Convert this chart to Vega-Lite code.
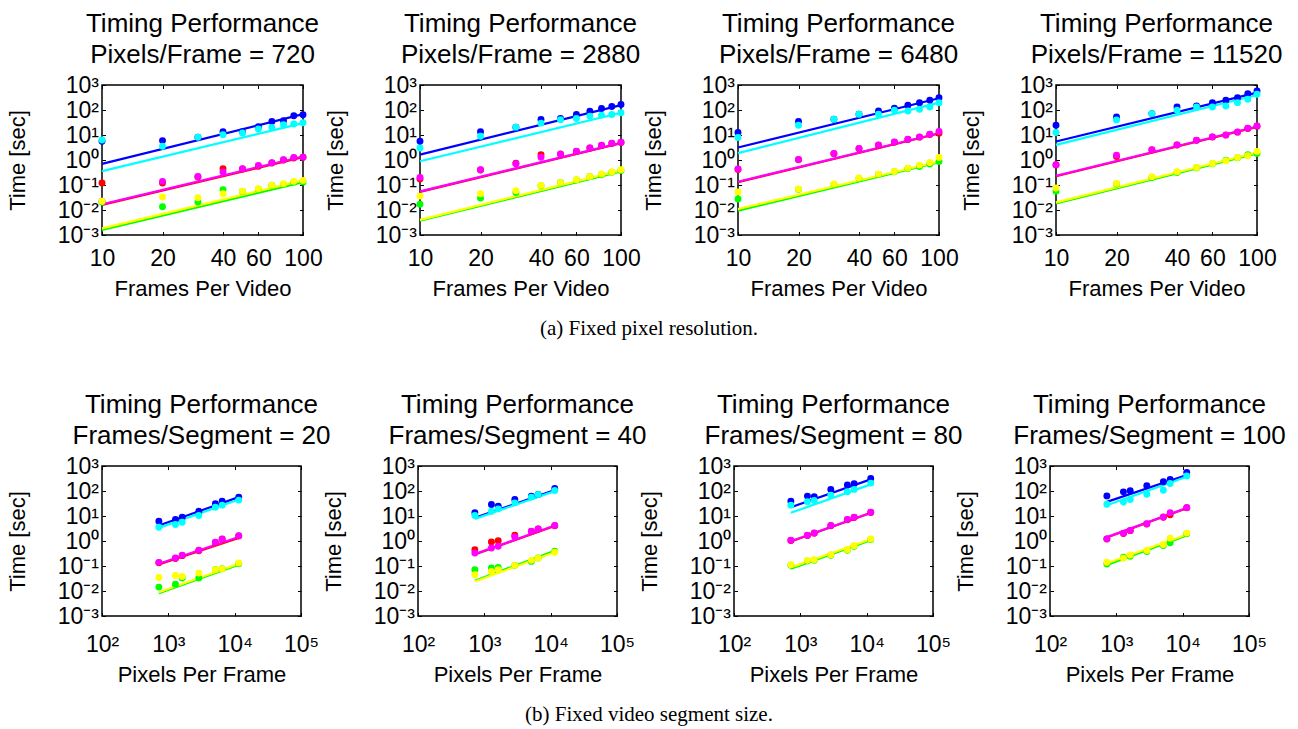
{
 "$schema": "https://vega.github.io/schema/vega-lite/v6.json",
 "background": "white",
 "padding": {"left": 5, "top": 10, "right": 5, "bottom": 5},
 "datasets": {
  "pts": [
   {"p":1,"s":"1b","x":10,"t":5.6},{"p":1,"s":"1b","x":20,"t":5.96},{"p":1,"s":"1b","x":30,"t":8.07},{"p":1,"s":"1b","x":40,"t":13.5},{"p":1,"s":"1b","x":50,"t":13.5},{"p":1,"s":"1b","x":60,"t":21.4},{"p":1,"s":"1b","x":70,"t":34.9},{"p":1,"s":"1b","x":80,"t":37.1},{"p":1,"s":"1b","x":90,"t":58.6},{"p":1,"s":"1b","x":100,"t":64.3},
   {"p":1,"s":"2c","x":10,"t":6.3},{"p":1,"s":"2c","x":20,"t":3.55},{"p":1,"s":"2c","x":30,"t":8.07},{"p":1,"s":"2c","x":40,"t":10.3},{"p":1,"s":"2c","x":50,"t":12.0},{"p":1,"s":"2c","x":60,"t":17.3},{"p":1,"s":"2c","x":70,"t":20.2},{"p":1,"s":"2c","x":80,"t":25.8},{"p":1,"s":"2c","x":90,"t":27.4},{"p":1,"s":"2c","x":100,"t":30.9},
   {"p":1,"s":"3r","x":10,"t":0.12},{"p":1,"s":"3r","x":20,"t":0.12},{"p":1,"s":"3r","x":30,"t":0.21},{"p":1,"s":"3r","x":40,"t":0.446},{"p":1,"s":"3r","x":50,"t":0.44},{"p":1,"s":"3r","x":60,"t":0.56},{"p":1,"s":"3r","x":70,"t":0.76},{"p":1,"s":"3r","x":80,"t":1.0},{"p":1,"s":"3r","x":90,"t":1.2},{"p":1,"s":"3r","x":100,"t":1.28},
   {"p":1,"s":"4m","x":10,"t":0.0224},{"p":1,"s":"4m","x":20,"t":0.14},{"p":1,"s":"4m","x":30,"t":0.22},{"p":1,"s":"4m","x":40,"t":0.329},{"p":1,"s":"4m","x":50,"t":0.446},{"p":1,"s":"4m","x":60,"t":0.6},{"p":1,"s":"4m","x":70,"t":0.77},{"p":1,"s":"4m","x":80,"t":1.02},{"p":1,"s":"4m","x":90,"t":1.25},{"p":1,"s":"4m","x":100,"t":1.3},
   {"p":1,"s":"5g","x":10,"t":0.021},{"p":1,"s":"5g","x":20,"t":0.0134},{"p":1,"s":"5g","x":30,"t":0.021},{"p":1,"s":"5g","x":40,"t":0.065},{"p":1,"s":"5g","x":50,"t":0.055},{"p":1,"s":"5g","x":60,"t":0.068},{"p":1,"s":"5g","x":70,"t":0.097},{"p":1,"s":"5g","x":80,"t":0.106},{"p":1,"s":"5g","x":90,"t":0.13},{"p":1,"s":"5g","x":100,"t":0.13},
   {"p":1,"s":"6y","x":10,"t":0.0224},{"p":1,"s":"6y","x":20,"t":0.033},{"p":1,"s":"6y","x":30,"t":0.031},{"p":1,"s":"6y","x":40,"t":0.045},{"p":1,"s":"6y","x":50,"t":0.056},{"p":1,"s":"6y","x":60,"t":0.071},{"p":1,"s":"6y","x":70,"t":0.097},{"p":1,"s":"6y","x":80,"t":0.113},{"p":1,"s":"6y","x":90,"t":0.14},{"p":1,"s":"6y","x":100,"t":0.153},

   {"p":2,"s":"1b","x":10,"t":5.6},{"p":2,"s":"1b","x":20,"t":13.4},{"p":2,"s":"1b","x":30,"t":20.6},{"p":2,"s":"1b","x":40,"t":41.8},{"p":2,"s":"1b","x":50,"t":45.8},{"p":2,"s":"1b","x":60,"t":66.4},{"p":2,"s":"1b","x":70,"t":90.3},{"p":2,"s":"1b","x":80,"t":115.6},{"p":2,"s":"1b","x":90,"t":139},{"p":2,"s":"1b","x":100,"t":167},
   {"p":2,"s":"2c","x":10,"t":3.04},{"p":2,"s":"2c","x":20,"t":8.95},{"p":2,"s":"2c","x":30,"t":20.6},{"p":2,"s":"2c","x":40,"t":29.8},{"p":2,"s":"2c","x":50,"t":40.5},{"p":2,"s":"2c","x":60,"t":45.8},{"p":2,"s":"2c","x":70,"t":56.9},{"p":2,"s":"2c","x":80,"t":62.4},{"p":2,"s":"2c","x":90,"t":66.4},{"p":2,"s":"2c","x":100,"t":77.4},
   {"p":2,"s":"3r","x":10,"t":0.173},{"p":2,"s":"3r","x":20,"t":0.4},{"p":2,"s":"3r","x":30,"t":0.74},{"p":2,"s":"3r","x":40,"t":1.64},{"p":2,"s":"3r","x":50,"t":1.72},{"p":2,"s":"3r","x":60,"t":2.2},{"p":2,"s":"3r","x":70,"t":3.0},{"p":2,"s":"3r","x":80,"t":3.85},{"p":2,"s":"3r","x":90,"t":4.6},{"p":2,"s":"3r","x":100,"t":5.05},
   {"p":2,"s":"4m","x":10,"t":0.2},{"p":2,"s":"4m","x":20,"t":0.41},{"p":2,"s":"4m","x":30,"t":0.71},{"p":2,"s":"4m","x":40,"t":1.28},{"p":2,"s":"4m","x":50,"t":1.75},{"p":2,"s":"4m","x":60,"t":2.23},{"p":2,"s":"4m","x":70,"t":3.04},{"p":2,"s":"4m","x":80,"t":3.89},{"p":2,"s":"4m","x":90,"t":4.69},{"p":2,"s":"4m","x":100,"t":5.14},
   {"p":2,"s":"5g","x":10,"t":0.0171},{"p":2,"s":"5g","x":20,"t":0.0299},{"p":2,"s":"5g","x":30,"t":0.0505},{"p":2,"s":"5g","x":40,"t":0.0935},{"p":2,"s":"5g","x":50,"t":0.125},{"p":2,"s":"5g","x":60,"t":0.16},{"p":2,"s":"5g","x":70,"t":0.218},{"p":2,"s":"5g","x":80,"t":0.255},{"p":2,"s":"5g","x":90,"t":0.325},{"p":2,"s":"5g","x":100,"t":0.38},
   {"p":2,"s":"6y","x":10,"t":0.036},{"p":2,"s":"6y","x":20,"t":0.0446},{"p":2,"s":"6y","x":30,"t":0.0589},{"p":2,"s":"6y","x":40,"t":0.0964},{"p":2,"s":"6y","x":50,"t":0.127},{"p":2,"s":"6y","x":60,"t":0.163},{"p":2,"s":"6y","x":70,"t":0.221},{"p":2,"s":"6y","x":80,"t":0.275},{"p":2,"s":"6y","x":90,"t":0.33},{"p":2,"s":"6y","x":100,"t":0.41},

   {"p":3,"s":"1b","x":10,"t":12.5},{"p":3,"s":"1b","x":20,"t":34.4},{"p":3,"s":"1b","x":30,"t":42.7},{"p":3,"s":"1b","x":40,"t":67.6},{"p":3,"s":"1b","x":50,"t":91.8},{"p":3,"s":"1b","x":60,"t":117},{"p":3,"s":"1b","x":70,"t":155},{"p":3,"s":"1b","x":80,"t":197},{"p":3,"s":"1b","x":90,"t":244},{"p":3,"s":"1b","x":100,"t":312},
   {"p":3,"s":"2c","x":10,"t":7.93},{"p":3,"s":"2c","x":20,"t":24.6},{"p":3,"s":"2c","x":30,"t":42.7},{"p":3,"s":"2c","x":40,"t":67.6},{"p":3,"s":"2c","x":50,"t":67.6},{"p":3,"s":"2c","x":60,"t":97.5},{"p":3,"s":"2c","x":70,"t":91.8},{"p":3,"s":"2c","x":80,"t":107},{"p":3,"s":"2c","x":90,"t":132},{"p":3,"s":"2c","x":100,"t":197},
   {"p":3,"s":"3r","x":10,"t":0.42},{"p":3,"s":"3r","x":20,"t":1.02},{"p":3,"s":"3r","x":30,"t":1.77},{"p":3,"s":"3r","x":40,"t":2.8},{"p":3,"s":"3r","x":50,"t":3.92},{"p":3,"s":"3r","x":60,"t":5.16},{"p":3,"s":"3r","x":70,"t":6.6},{"p":3,"s":"3r","x":80,"t":8.2},{"p":3,"s":"3r","x":90,"t":10.5},{"p":3,"s":"3r","x":100,"t":11.8},
   {"p":3,"s":"4m","x":10,"t":0.433},{"p":3,"s":"4m","x":20,"t":1.05},{"p":3,"s":"4m","x":30,"t":1.82},{"p":3,"s":"4m","x":40,"t":2.89},{"p":3,"s":"4m","x":50,"t":4.04},{"p":3,"s":"4m","x":60,"t":5.32},{"p":3,"s":"4m","x":70,"t":6.79},{"p":3,"s":"4m","x":80,"t":8.43},{"p":3,"s":"4m","x":90,"t":10.8},{"p":3,"s":"4m","x":100,"t":13.7},
   {"p":3,"s":"5g","x":10,"t":0.0275},{"p":3,"s":"5g","x":20,"t":0.067},{"p":3,"s":"5g","x":30,"t":0.106},{"p":3,"s":"5g","x":40,"t":0.184},{"p":3,"s":"5g","x":50,"t":0.265},{"p":3,"s":"5g","x":60,"t":0.34},{"p":3,"s":"5g","x":70,"t":0.46},{"p":3,"s":"5g","x":80,"t":0.552},{"p":3,"s":"5g","x":90,"t":0.684},{"p":3,"s":"5g","x":100,"t":0.873},
   {"p":3,"s":"6y","x":10,"t":0.0522},{"p":3,"s":"6y","x":20,"t":0.0689},{"p":3,"s":"6y","x":30,"t":0.109},{"p":3,"s":"6y","x":40,"t":0.189},{"p":3,"s":"6y","x":50,"t":0.273},{"p":3,"s":"6y","x":60,"t":0.349},{"p":3,"s":"6y","x":70,"t":0.474},{"p":3,"s":"6y","x":80,"t":0.624},{"p":3,"s":"6y","x":90,"t":0.797},{"p":3,"s":"6y","x":100,"t":1.26},

   {"p":4,"s":"1b","x":10,"t":24.6},{"p":4,"s":"1b","x":20,"t":52.9},{"p":4,"s":"1b","x":30,"t":71.8},{"p":4,"s":"1b","x":40,"t":132},{"p":4,"s":"1b","x":50,"t":145},{"p":4,"s":"1b","x":60,"t":197},{"p":4,"s":"1b","x":70,"t":244},{"p":4,"s":"1b","x":80,"t":312},{"p":4,"s":"1b","x":90,"t":451},{"p":4,"s":"1b","x":100,"t":576},
   {"p":4,"s":"2c","x":10,"t":12.5},{"p":4,"s":"2c","x":20,"t":40.2},{"p":4,"s":"2c","x":30,"t":71.8},{"p":4,"s":"2c","x":40,"t":97.5},{"p":4,"s":"2c","x":50,"t":132},{"p":4,"s":"2c","x":60,"t":132},{"p":4,"s":"2c","x":70,"t":145},{"p":4,"s":"2c","x":80,"t":197},{"p":4,"s":"2c","x":90,"t":268},{"p":4,"s":"2c","x":100,"t":424},
   {"p":4,"s":"3r","x":10,"t":0.63},{"p":4,"s":"3r","x":20,"t":1.38},{"p":4,"s":"3r","x":30,"t":2.5},{"p":4,"s":"3r","x":40,"t":3.96},{"p":4,"s":"3r","x":50,"t":6.1},{"p":4,"s":"3r","x":60,"t":8.26},{"p":4,"s":"3r","x":70,"t":9.9},{"p":4,"s":"3r","x":80,"t":13.0},{"p":4,"s":"3r","x":90,"t":18.3},{"p":4,"s":"3r","x":100,"t":22.6},
   {"p":4,"s":"4m","x":10,"t":0.644},{"p":4,"s":"4m","x":20,"t":1.56},{"p":4,"s":"4m","x":30,"t":2.55},{"p":4,"s":"4m","x":40,"t":4.04},{"p":4,"s":"4m","x":50,"t":6.21},{"p":4,"s":"4m","x":60,"t":8.43},{"p":4,"s":"4m","x":70,"t":10.1},{"p":4,"s":"4m","x":80,"t":13.3},{"p":4,"s":"4m","x":90,"t":18.7},{"p":4,"s":"4m","x":100,"t":23.1},
   {"p":4,"s":"5g","x":10,"t":0.0556},{"p":4,"s":"5g","x":20,"t":0.109},{"p":4,"s":"5g","x":30,"t":0.201},{"p":4,"s":"5g","x":40,"t":0.318},{"p":4,"s":"5g","x":50,"t":0.49},{"p":4,"s":"5g","x":60,"t":0.71},{"p":4,"s":"5g","x":70,"t":0.99},{"p":4,"s":"5g","x":80,"t":1.24},{"p":4,"s":"5g","x":90,"t":1.61},{"p":4,"s":"5g","x":100,"t":1.82},
   {"p":4,"s":"6y","x":10,"t":0.0755},{"p":4,"s":"6y","x":20,"t":0.116},{"p":4,"s":"6y","x":30,"t":0.214},{"p":4,"s":"6y","x":40,"t":0.338},{"p":4,"s":"6y","x":50,"t":0.504},{"p":4,"s":"6y","x":60,"t":0.727},{"p":4,"s":"6y","x":70,"t":0.929},{"p":4,"s":"6y","x":80,"t":1.26},{"p":4,"s":"6y","x":90,"t":1.47},{"p":4,"s":"6y","x":100,"t":2.19},

   {"p":5,"s":"1b","x":720,"t":6.18},{"p":5,"s":"1b","x":1280,"t":7.21},{"p":5,"s":"1b","x":1620,"t":8.95},{"p":5,"s":"1b","x":2880,"t":15.6},{"p":5,"s":"1b","x":5120,"t":30.7},{"p":5,"s":"1b","x":6480,"t":39.3},{"p":5,"s":"1b","x":11520,"t":56.9},
   {"p":5,"s":"2c","x":720,"t":3.55},{"p":5,"s":"2c","x":1280,"t":4.54},{"p":5,"s":"2c","x":1620,"t":5.64},{"p":5,"s":"2c","x":2880,"t":10.4},{"p":5,"s":"2c","x":5120,"t":22.5},{"p":5,"s":"2c","x":6480,"t":27.2},{"p":5,"s":"2c","x":11520,"t":43.2},
   {"p":5,"s":"3r","x":720,"t":0.135},{"p":5,"s":"3r","x":1280,"t":0.2},{"p":5,"s":"3r","x":1620,"t":0.26},{"p":5,"s":"3r","x":2880,"t":0.41},{"p":5,"s":"3r","x":5120,"t":0.86},{"p":5,"s":"3r","x":6480,"t":1.17},{"p":5,"s":"3r","x":11520,"t":1.58},
   {"p":5,"s":"4m","x":720,"t":0.14},{"p":5,"s":"4m","x":1280,"t":0.208},{"p":5,"s":"4m","x":1620,"t":0.267},{"p":5,"s":"4m","x":2880,"t":0.424},{"p":5,"s":"4m","x":5120,"t":0.887},{"p":5,"s":"4m","x":6480,"t":1.21},{"p":5,"s":"4m","x":11520,"t":1.64},
   {"p":5,"s":"5g","x":720,"t":0.0143},{"p":5,"s":"5g","x":1280,"t":0.0188},{"p":5,"s":"5g","x":1620,"t":0.0328},{"p":5,"s":"5g","x":2880,"t":0.0328},{"p":5,"s":"5g","x":5120,"t":0.0708},{"p":5,"s":"5g","x":6480,"t":0.0776},{"p":5,"s":"5g","x":11520,"t":0.123},
   {"p":5,"s":"6y","x":720,"t":0.0348},{"p":5,"s":"6y","x":1280,"t":0.042},{"p":5,"s":"6y","x":1620,"t":0.0382},{"p":5,"s":"6y","x":2880,"t":0.052},{"p":5,"s":"6y","x":5120,"t":0.0708},{"p":5,"s":"6y","x":6480,"t":0.0776},{"p":5,"s":"6y","x":11520,"t":0.131},

   {"p":6,"s":"1b","x":720,"t":13.4},{"p":6,"s":"1b","x":1280,"t":28.9},{"p":6,"s":"1b","x":1620,"t":24.8},{"p":6,"s":"1b","x":2880,"t":45.8},{"p":6,"s":"1b","x":5120,"t":62.4},{"p":6,"s":"1b","x":6480,"t":72.8},{"p":6,"s":"1b","x":11520,"t":127},
   {"p":6,"s":"2c","x":720,"t":10.4},{"p":6,"s":"2c","x":1280,"t":15.6},{"p":6,"s":"2c","x":1620,"t":19.3},{"p":6,"s":"2c","x":2880,"t":33.6},{"p":6,"s":"2c","x":5120,"t":56.9},{"p":6,"s":"2c","x":6480,"t":72.8},{"p":6,"s":"2c","x":11520,"t":105},
   {"p":6,"s":"3r","x":720,"t":0.45},{"p":6,"s":"3r","x":1280,"t":0.914},{"p":6,"s":"3r","x":1620,"t":1.03},{"p":6,"s":"3r","x":2880,"t":1.69},{"p":6,"s":"3r","x":5120,"t":2.4},{"p":6,"s":"3r","x":6480,"t":3.0},{"p":6,"s":"3r","x":11520,"t":4.05},
   {"p":6,"s":"4m","x":720,"t":0.33},{"p":6,"s":"4m","x":1280,"t":0.525},{"p":6,"s":"4m","x":1620,"t":0.612},{"p":6,"s":"4m","x":2880,"t":1.45},{"p":6,"s":"4m","x":5120,"t":2.45},{"p":6,"s":"4m","x":6480,"t":3.04},{"p":6,"s":"4m","x":11520,"t":4.14},
   {"p":6,"s":"5g","x":720,"t":0.0708},{"p":6,"s":"5g","x":1280,"t":0.0826},{"p":6,"s":"5g","x":1620,"t":0.0879},{"p":6,"s":"5g","x":2880,"t":0.106},{"p":6,"s":"5g","x":5120,"t":0.153},{"p":6,"s":"5g","x":6480,"t":0.208},{"p":6,"s":"5g","x":11520,"t":0.386},
   {"p":6,"s":"6y","x":720,"t":0.0446},{"p":6,"s":"6y","x":1280,"t":0.0607},{"p":6,"s":"6y","x":1620,"t":0.0708},{"p":6,"s":"6y","x":2880,"t":0.106},{"p":6,"s":"6y","x":5120,"t":0.168},{"p":6,"s":"6y","x":6480,"t":0.208},{"p":6,"s":"6y","x":11520,"t":0.352},

   {"p":7,"s":"1b","x":720,"t":39.3},{"p":7,"s":"1b","x":1280,"t":62.4},{"p":7,"s":"1b","x":1620,"t":58.6},{"p":7,"s":"1b","x":2880,"t":116},{"p":7,"s":"1b","x":5120,"t":173},{"p":7,"s":"1b","x":6480,"t":195},{"p":7,"s":"1b","x":11520,"t":319},
   {"p":7,"s":"2c","x":720,"t":27.2},{"p":7,"s":"2c","x":1280,"t":37.0},{"p":7,"s":"2c","x":1620,"t":41.8},{"p":7,"s":"2c","x":2880,"t":68.4},{"p":7,"s":"2c","x":5120,"t":93.1},{"p":7,"s":"2c","x":6480,"t":116},{"p":7,"s":"2c","x":11520,"t":207},
   {"p":7,"s":"3r","x":720,"t":1.05},{"p":7,"s":"3r","x":1280,"t":1.65},{"p":7,"s":"3r","x":1620,"t":2.06},{"p":7,"s":"3r","x":2880,"t":4.05},{"p":7,"s":"3r","x":5120,"t":7.05},{"p":7,"s":"3r","x":6480,"t":8.75},{"p":7,"s":"3r","x":11520,"t":13.9},
   {"p":7,"s":"4m","x":720,"t":1.07},{"p":7,"s":"4m","x":1280,"t":1.69},{"p":7,"s":"4m","x":1620,"t":2.1},{"p":7,"s":"4m","x":2880,"t":4.14},{"p":7,"s":"4m","x":5120,"t":7.21},{"p":7,"s":"4m","x":6480,"t":8.95},{"p":7,"s":"4m","x":11520,"t":14.2},
   {"p":7,"s":"5g","x":720,"t":0.108},{"p":7,"s":"5g","x":1280,"t":0.16},{"p":7,"s":"5g","x":1620,"t":0.17},{"p":7,"s":"5g","x":2880,"t":0.27},{"p":7,"s":"5g","x":5120,"t":0.43},{"p":7,"s":"5g","x":6480,"t":0.62},{"p":7,"s":"5g","x":11520,"t":1.15},
   {"p":7,"s":"6y","x":720,"t":0.112},{"p":7,"s":"6y","x":1280,"t":0.168},{"p":7,"s":"6y","x":1620,"t":0.179},{"p":7,"s":"6y","x":2880,"t":0.283},{"p":7,"s":"6y","x":5120,"t":0.45},{"p":7,"s":"6y","x":6480,"t":0.652},{"p":7,"s":"6y","x":11520,"t":1.21},

   {"p":8,"s":"1b","x":720,"t":63.8},{"p":8,"s":"1b","x":1280,"t":92.5},{"p":8,"s":"1b","x":1620,"t":102},{"p":8,"s":"1b","x":2880,"t":161},{"p":8,"s":"1b","x":5120,"t":234},{"p":8,"s":"1b","x":6480,"t":290},{"p":8,"s":"1b","x":11520,"t":556},
   {"p":8,"s":"2c","x":720,"t":29.5},{"p":8,"s":"2c","x":1280,"t":36.6},{"p":8,"s":"2c","x":1620,"t":45.5},{"p":8,"s":"2c","x":2880,"t":74.5},{"p":8,"s":"2c","x":5120,"t":108},{"p":8,"s":"2c","x":6480,"t":200},{"p":8,"s":"2c","x":11520,"t":395},
   {"p":8,"s":"3r","x":720,"t":1.2},{"p":8,"s":"3r","x":1280,"t":2.0},{"p":8,"s":"3r","x":1620,"t":2.6},{"p":8,"s":"3r","x":2880,"t":4.8},{"p":8,"s":"3r","x":5120,"t":8.9},{"p":8,"s":"3r","x":6480,"t":11.3},{"p":8,"s":"3r","x":11520,"t":21.2},
   {"p":8,"s":"4m","x":720,"t":1.22},{"p":8,"s":"4m","x":1280,"t":2.07},{"p":8,"s":"4m","x":1620,"t":2.65},{"p":8,"s":"4m","x":2880,"t":4.91},{"p":8,"s":"4m","x":5120,"t":9.12},{"p":8,"s":"4m","x":6480,"t":13.6},{"p":8,"s":"4m","x":11520,"t":21.7},
   {"p":8,"s":"5g","x":720,"t":0.12},{"p":8,"s":"5g","x":1280,"t":0.223},{"p":8,"s":"5g","x":1620,"t":0.245},{"p":8,"s":"5g","x":2880,"t":0.377},{"p":8,"s":"5g","x":5120,"t":0.659},{"p":8,"s":"5g","x":6480,"t":0.843},{"p":8,"s":"5g","x":11520,"t":1.95},
   {"p":8,"s":"6y","x":720,"t":0.141},{"p":8,"s":"6y","x":1280,"t":0.204},{"p":8,"s":"6y","x":1620,"t":0.277},{"p":8,"s":"6y","x":2880,"t":0.414},{"p":8,"s":"6y","x":5120,"t":0.723},{"p":8,"s":"6y","x":6480,"t":1.3},{"p":8,"s":"6y","x":11520,"t":2.07}
  ],
  "fits": [
   {"p":1,"s":"1b","x":10,"t":0.7},{"p":1,"s":"1b","x":100,"t":68.2},
   {"p":1,"s":"2c","x":10,"t":0.36},{"p":1,"s":"2c","x":100,"t":30.0},
   {"p":1,"s":"3r","x":10,"t":0.016},{"p":1,"s":"3r","x":100,"t":1.3},
   {"p":1,"s":"4m","x":10,"t":0.017},{"p":1,"s":"4m","x":100,"t":1.38},
   {"p":1,"s":"5g","x":10,"t":0.00158},{"p":1,"s":"5g","x":100,"t":0.13},
   {"p":1,"s":"6y","x":10,"t":0.00184},{"p":1,"s":"6y","x":100,"t":0.153},
   {"p":2,"s":"1b","x":10,"t":1.64},{"p":2,"s":"1b","x":100,"t":157},
   {"p":2,"s":"2c","x":10,"t":0.89},{"p":2,"s":"2c","x":100,"t":77.4},
   {"p":2,"s":"3r","x":10,"t":0.053},{"p":2,"s":"3r","x":100,"t":4.7},
   {"p":2,"s":"4m","x":10,"t":0.0553},{"p":2,"s":"4m","x":100,"t":4.83},
   {"p":2,"s":"5g","x":10,"t":0.00378},{"p":2,"s":"5g","x":100,"t":0.352},
   {"p":2,"s":"6y","x":10,"t":0.00403},{"p":2,"s":"6y","x":100,"t":0.386},
   {"p":3,"s":"1b","x":10,"t":3.16},{"p":3,"s":"1b","x":100,"t":294},
   {"p":3,"s":"2c","x":10,"t":1.88},{"p":3,"s":"2c","x":100,"t":197},
   {"p":3,"s":"3r","x":10,"t":0.13},{"p":3,"s":"3r","x":100,"t":11.5},
   {"p":3,"s":"4m","x":10,"t":0.135},{"p":3,"s":"4m","x":100,"t":11.8},
   {"p":3,"s":"5g","x":10,"t":0.0094},{"p":3,"s":"5g","x":100,"t":0.81},
   {"p":3,"s":"6y","x":10,"t":0.011},{"p":3,"s":"6y","x":100,"t":0.873},
   {"p":4,"s":"1b","x":10,"t":5.49},{"p":4,"s":"1b","x":100,"t":494},
   {"p":4,"s":"2c","x":10,"t":4.04},{"p":4,"s":"2c","x":100,"t":399},
   {"p":4,"s":"3r","x":10,"t":0.225},{"p":4,"s":"3r","x":100,"t":21},
   {"p":4,"s":"4m","x":10,"t":0.234},{"p":4,"s":"4m","x":100,"t":21.8},
   {"p":4,"s":"5g","x":10,"t":0.0185},{"p":4,"s":"5g","x":100,"t":1.82},
   {"p":4,"s":"6y","x":10,"t":0.0202},{"p":4,"s":"6y","x":100,"t":2.0},
   {"p":5,"s":"1b","x":720,"t":4.14},{"p":5,"s":"1b","x":11520,"t":56.9},
   {"p":5,"s":"2c","x":720,"t":3.34},{"p":5,"s":"2c","x":11520,"t":45.8},
   {"p":5,"s":"3r","x":720,"t":0.116},{"p":5,"s":"3r","x":11520,"t":1.32},
   {"p":5,"s":"4m","x":720,"t":0.123},{"p":5,"s":"4m","x":11520,"t":1.45},
   {"p":5,"s":"5g","x":720,"t":0.0082},{"p":5,"s":"5g","x":11520,"t":0.112},
   {"p":5,"s":"6y","x":720,"t":0.00897},{"p":5,"s":"6y","x":11520,"t":0.123},
   {"p":6,"s":"1b","x":720,"t":8.41},{"p":6,"s":"1b","x":11520,"t":109},
   {"p":6,"s":"2c","x":720,"t":7.67},{"p":6,"s":"2c","x":11520,"t":99},
   {"p":6,"s":"3r","x":720,"t":0.29},{"p":6,"s":"3r","x":11520,"t":4.0},
   {"p":6,"s":"4m","x":720,"t":0.301},{"p":6,"s":"4m","x":11520,"t":4.14},
   {"p":6,"s":"5g","x":720,"t":0.0256},{"p":6,"s":"5g","x":11520,"t":0.41},
   {"p":6,"s":"6y","x":720,"t":0.0241},{"p":6,"s":"6y","x":11520,"t":0.352},
   {"p":7,"s":"1b","x":720,"t":22.5},{"p":7,"s":"1b","x":11520,"t":292},
   {"p":7,"s":"2c","x":720,"t":13.4},{"p":7,"s":"2c","x":11520,"t":184},
   {"p":7,"s":"3r","x":720,"t":0.95},{"p":7,"s":"3r","x":11520,"t":13.1},
   {"p":7,"s":"4m","x":720,"t":0.97},{"p":7,"s":"4m","x":11520,"t":13.4},
   {"p":7,"s":"5g","x":720,"t":0.0776},{"p":7,"s":"5g","x":11520,"t":1.07},
   {"p":7,"s":"6y","x":720,"t":0.0879},{"p":7,"s":"6y","x":11520,"t":1.17},
   {"p":8,"s":"1b","x":720,"t":36.6},{"p":8,"s":"1b","x":11520,"t":435},
   {"p":8,"s":"2c","x":720,"t":26.9},{"p":8,"s":"2c","x":11520,"t":372},
   {"p":8,"s":"3r","x":720,"t":1.38},{"p":8,"s":"3r","x":11520,"t":20.5},
   {"p":8,"s":"4m","x":720,"t":1.43},{"p":8,"s":"4m","x":11520,"t":21.0},
   {"p":8,"s":"5g","x":720,"t":0.11},{"p":8,"s":"5g","x":11520,"t":1.66},
   {"p":8,"s":"6y","x":720,"t":0.128},{"p":8,"s":"6y","x":11520,"t":1.83}
  ]
 },
 "config": {
  "font": "Liberation Sans",
  "view": {"stroke": "black", "strokeWidth": 1.5},
  "axis": {"grid": false, "domain": false, "tickColor": "black", "tickSize": -3.5, "tickWidth": 1, "labelColor": "black", "labelFontSize": 23, "labelFont": "Liberation Sans", "titleFont": "Liberation Sans", "titleFontSize": 22, "titleFontWeight": "normal", "titleColor": "black", "labelOverlap": false, "labelFlush": false},
  "title": {"font": "Liberation Sans", "fontSize": 26, "fontWeight": "normal", "color": "black", "lineHeight": 31, "offset": 6, "frame": "group", "anchor": "middle"}
 },
 "spacing": 381,
 "bounds": "flush",
 "vconcat": [
  {
   "spacing": 117,
   "bounds": "flush",
   "title": {"text": "(a) Fixed pixel resolution.", "orient": "bottom", "anchor": "middle", "frame": "group", "font": "Liberation Serif", "fontSize": 21, "fontWeight": "normal", "offset": 18, "dx": 547},
   "hconcat": [
    {"width": 201, "height": 150, "title": {"text": ["Timing Performance", "Pixels/Frame = 720"]},
     "layer": [
      {"data": {"name": "fits"}, "transform": [{"filter": "datum.p == 1"}], "mark": {"type": "line", "strokeWidth": 2.2},
       "encoding": {"x": {"field": "x", "type": "quantitative", "scale": {"type": "log", "domain": [10, 100], "nice": false}, "axis": {"values": [10, 20, 40, 60, 100], "title": "Frames Per Video", "labelPadding": 16, "titlePadding": 8}},
        "y": {"field": "t", "type": "quantitative", "scale": {"type": "log", "domain": [0.001, 1000], "nice": false}, "axis": {"values": [0.001, 0.01, 0.1, 1, 10, 100, 1000], "labelExpr": "'10' + ['⁻³','⁻²','⁻¹','⁰','¹','²','³','⁴','⁵'][round(log(datum.value)/LN10)+3]", "title": "Time [sec]", "labelPadding": 7, "titlePadding": 28}},
        "color": {"field": "s", "type": "nominal", "legend": null, "scale": {"domain": ["1b","2c","3r","4m","5g","6y"], "range": ["#0000ff","#00ffff","#ff0000","#ff00ff","#00ff00","#ffff00"]}}}},
      {"data": {"name": "pts"}, "transform": [{"filter": "datum.p == 1"}], "mark": {"type": "circle", "size": 48, "opacity": 1},
       "encoding": {"x": {"field": "x", "type": "quantitative", "scale": {"type": "log", "domain": [10, 100], "nice": false}, "axis": {"orient": "top", "values": [10, 20, 40, 60, 100], "labels": false, "title": null}},
        "y": {"field": "t", "type": "quantitative", "scale": {"type": "log", "domain": [0.001, 1000], "nice": false}, "axis": {"orient": "right", "values": [0.001, 0.01, 0.1, 1, 10, 100, 1000], "labels": false, "title": null}},
        "color": {"field": "s", "type": "nominal", "legend": null}}}
     ],
     "resolve": {"scale": {"x": "independent", "y": "independent"}}},
    {"width": 201, "height": 150, "title": {"text": ["Timing Performance", "Pixels/Frame = 2880"]},
     "layer": [
      {"data": {"name": "fits"}, "transform": [{"filter": "datum.p == 2"}], "mark": {"type": "line", "strokeWidth": 2.2},
       "encoding": {"x": {"field": "x", "type": "quantitative", "scale": {"type": "log", "domain": [10, 100], "nice": false}, "axis": {"values": [10, 20, 40, 60, 100], "title": "Frames Per Video", "labelPadding": 16, "titlePadding": 8}},
        "y": {"field": "t", "type": "quantitative", "scale": {"type": "log", "domain": [0.001, 1000], "nice": false}, "axis": {"values": [0.001, 0.01, 0.1, 1, 10, 100, 1000], "labelExpr": "'10' + ['⁻³','⁻²','⁻¹','⁰','¹','²','³','⁴','⁵'][round(log(datum.value)/LN10)+3]", "title": "Time [sec]", "labelPadding": 7, "titlePadding": 28}},
        "color": {"field": "s", "type": "nominal", "legend": null, "scale": {"domain": ["1b","2c","3r","4m","5g","6y"], "range": ["#0000ff","#00ffff","#ff0000","#ff00ff","#00ff00","#ffff00"]}}}},
      {"data": {"name": "pts"}, "transform": [{"filter": "datum.p == 2"}], "mark": {"type": "circle", "size": 48, "opacity": 1},
       "encoding": {"x": {"field": "x", "type": "quantitative", "scale": {"type": "log", "domain": [10, 100], "nice": false}, "axis": {"orient": "top", "values": [10, 20, 40, 60, 100], "labels": false, "title": null}},
        "y": {"field": "t", "type": "quantitative", "scale": {"type": "log", "domain": [0.001, 1000], "nice": false}, "axis": {"orient": "right", "values": [0.001, 0.01, 0.1, 1, 10, 100, 1000], "labels": false, "title": null}},
        "color": {"field": "s", "type": "nominal", "legend": null}}}
     ],
     "resolve": {"scale": {"x": "independent", "y": "independent"}}},
    {"width": 201, "height": 150, "title": {"text": ["Timing Performance", "Pixels/Frame = 6480"]},
     "layer": [
      {"data": {"name": "fits"}, "transform": [{"filter": "datum.p == 3"}], "mark": {"type": "line", "strokeWidth": 2.2},
       "encoding": {"x": {"field": "x", "type": "quantitative", "scale": {"type": "log", "domain": [10, 100], "nice": false}, "axis": {"values": [10, 20, 40, 60, 100], "title": "Frames Per Video", "labelPadding": 16, "titlePadding": 8}},
        "y": {"field": "t", "type": "quantitative", "scale": {"type": "log", "domain": [0.001, 1000], "nice": false}, "axis": {"values": [0.001, 0.01, 0.1, 1, 10, 100, 1000], "labelExpr": "'10' + ['⁻³','⁻²','⁻¹','⁰','¹','²','³','⁴','⁵'][round(log(datum.value)/LN10)+3]", "title": "Time [sec]", "labelPadding": 7, "titlePadding": 28}},
        "color": {"field": "s", "type": "nominal", "legend": null, "scale": {"domain": ["1b","2c","3r","4m","5g","6y"], "range": ["#0000ff","#00ffff","#ff0000","#ff00ff","#00ff00","#ffff00"]}}}},
      {"data": {"name": "pts"}, "transform": [{"filter": "datum.p == 3"}], "mark": {"type": "circle", "size": 48, "opacity": 1},
       "encoding": {"x": {"field": "x", "type": "quantitative", "scale": {"type": "log", "domain": [10, 100], "nice": false}, "axis": {"orient": "top", "values": [10, 20, 40, 60, 100], "labels": false, "title": null}},
        "y": {"field": "t", "type": "quantitative", "scale": {"type": "log", "domain": [0.001, 1000], "nice": false}, "axis": {"orient": "right", "values": [0.001, 0.01, 0.1, 1, 10, 100, 1000], "labels": false, "title": null}},
        "color": {"field": "s", "type": "nominal", "legend": null}}}
     ],
     "resolve": {"scale": {"x": "independent", "y": "independent"}}},
    {"width": 201, "height": 150, "title": {"text": ["Timing Performance", "Pixels/Frame = 11520"]},
     "layer": [
      {"data": {"name": "fits"}, "transform": [{"filter": "datum.p == 4"}], "mark": {"type": "line", "strokeWidth": 2.2},
       "encoding": {"x": {"field": "x", "type": "quantitative", "scale": {"type": "log", "domain": [10, 100], "nice": false}, "axis": {"values": [10, 20, 40, 60, 100], "title": "Frames Per Video", "labelPadding": 16, "titlePadding": 8}},
        "y": {"field": "t", "type": "quantitative", "scale": {"type": "log", "domain": [0.001, 1000], "nice": false}, "axis": {"values": [0.001, 0.01, 0.1, 1, 10, 100, 1000], "labelExpr": "'10' + ['⁻³','⁻²','⁻¹','⁰','¹','²','³','⁴','⁵'][round(log(datum.value)/LN10)+3]", "title": "Time [sec]", "labelPadding": 7, "titlePadding": 28}},
        "color": {"field": "s", "type": "nominal", "legend": null, "scale": {"domain": ["1b","2c","3r","4m","5g","6y"], "range": ["#0000ff","#00ffff","#ff0000","#ff00ff","#00ff00","#ffff00"]}}}},
      {"data": {"name": "pts"}, "transform": [{"filter": "datum.p == 4"}], "mark": {"type": "circle", "size": 48, "opacity": 1},
       "encoding": {"x": {"field": "x", "type": "quantitative", "scale": {"type": "log", "domain": [10, 100], "nice": false}, "axis": {"orient": "top", "values": [10, 20, 40, 60, 100], "labels": false, "title": null}},
        "y": {"field": "t", "type": "quantitative", "scale": {"type": "log", "domain": [0.001, 1000], "nice": false}, "axis": {"orient": "right", "values": [0.001, 0.01, 0.1, 1, 10, 100, 1000], "labels": false, "title": null}},
        "color": {"field": "s", "type": "nominal", "legend": null}}}
     ],
     "resolve": {"scale": {"x": "independent", "y": "independent"}}}
   ]
  },
  {
   "spacing": 117,
   "bounds": "flush",
   "title": {"text": "(b) Fixed video segment size.", "orient": "bottom", "anchor": "middle", "frame": "group", "font": "Liberation Serif", "fontSize": 21, "fontWeight": "normal", "offset": 18, "dx": 547},
   "hconcat": [
    {"width": 199, "height": 150, "title": {"text": ["Timing Performance", "Frames/Segment = 20"]},
     "layer": [
      {"data": {"name": "fits"}, "transform": [{"filter": "datum.p == 5"}], "mark": {"type": "line", "strokeWidth": 2.2},
       "encoding": {"x": {"field": "x", "type": "quantitative", "scale": {"type": "log", "domain": [100, 100000], "nice": false}, "axis": {"values": [100, 1000, 10000, 100000], "labelExpr": "'10' + ['⁻³','⁻²','⁻¹','⁰','¹','²','³','⁴','⁵'][round(log(datum.value)/LN10)+3]", "title": "Pixels Per Frame", "labelPadding": 21, "titlePadding": 8}},
        "y": {"field": "t", "type": "quantitative", "scale": {"type": "log", "domain": [0.001, 1000], "nice": false}, "axis": {"values": [0.001, 0.01, 0.1, 1, 10, 100, 1000], "labelExpr": "'10' + ['⁻³','⁻²','⁻¹','⁰','¹','²','³','⁴','⁵'][round(log(datum.value)/LN10)+3]", "title": "Time [sec]", "labelPadding": 7, "titlePadding": 28}},
        "color": {"field": "s", "type": "nominal", "legend": null, "scale": {"domain": ["1b","2c","3r","4m","5g","6y"], "range": ["#0000ff","#00ffff","#ff0000","#ff00ff","#00ff00","#ffff00"]}}}},
      {"data": {"name": "pts"}, "transform": [{"filter": "datum.p == 5"}], "mark": {"type": "circle", "size": 48, "opacity": 1},
       "encoding": {"x": {"field": "x", "type": "quantitative", "scale": {"type": "log", "domain": [100, 100000], "nice": false}, "axis": {"orient": "top", "values": [100, 1000, 10000, 100000], "labels": false, "title": null}},
        "y": {"field": "t", "type": "quantitative", "scale": {"type": "log", "domain": [0.001, 1000], "nice": false}, "axis": {"orient": "right", "values": [0.001, 0.01, 0.1, 1, 10, 100, 1000], "labels": false, "title": null}},
        "color": {"field": "s", "type": "nominal", "legend": null}}}
     ],
     "resolve": {"scale": {"x": "independent", "y": "independent"}}},
    {"width": 199, "height": 150, "title": {"text": ["Timing Performance", "Frames/Segment = 40"]},
     "layer": [
      {"data": {"name": "fits"}, "transform": [{"filter": "datum.p == 6"}], "mark": {"type": "line", "strokeWidth": 2.2},
       "encoding": {"x": {"field": "x", "type": "quantitative", "scale": {"type": "log", "domain": [100, 100000], "nice": false}, "axis": {"values": [100, 1000, 10000, 100000], "labelExpr": "'10' + ['⁻³','⁻²','⁻¹','⁰','¹','²','³','⁴','⁵'][round(log(datum.value)/LN10)+3]", "title": "Pixels Per Frame", "labelPadding": 21, "titlePadding": 8}},
        "y": {"field": "t", "type": "quantitative", "scale": {"type": "log", "domain": [0.001, 1000], "nice": false}, "axis": {"values": [0.001, 0.01, 0.1, 1, 10, 100, 1000], "labelExpr": "'10' + ['⁻³','⁻²','⁻¹','⁰','¹','²','³','⁴','⁵'][round(log(datum.value)/LN10)+3]", "title": "Time [sec]", "labelPadding": 7, "titlePadding": 28}},
        "color": {"field": "s", "type": "nominal", "legend": null, "scale": {"domain": ["1b","2c","3r","4m","5g","6y"], "range": ["#0000ff","#00ffff","#ff0000","#ff00ff","#00ff00","#ffff00"]}}}},
      {"data": {"name": "pts"}, "transform": [{"filter": "datum.p == 6"}], "mark": {"type": "circle", "size": 48, "opacity": 1},
       "encoding": {"x": {"field": "x", "type": "quantitative", "scale": {"type": "log", "domain": [100, 100000], "nice": false}, "axis": {"orient": "top", "values": [100, 1000, 10000, 100000], "labels": false, "title": null}},
        "y": {"field": "t", "type": "quantitative", "scale": {"type": "log", "domain": [0.001, 1000], "nice": false}, "axis": {"orient": "right", "values": [0.001, 0.01, 0.1, 1, 10, 100, 1000], "labels": false, "title": null}},
        "color": {"field": "s", "type": "nominal", "legend": null}}}
     ],
     "resolve": {"scale": {"x": "independent", "y": "independent"}}},
    {"width": 199, "height": 150, "title": {"text": ["Timing Performance", "Frames/Segment = 80"]},
     "layer": [
      {"data": {"name": "fits"}, "transform": [{"filter": "datum.p == 7"}], "mark": {"type": "line", "strokeWidth": 2.2},
       "encoding": {"x": {"field": "x", "type": "quantitative", "scale": {"type": "log", "domain": [100, 100000], "nice": false}, "axis": {"values": [100, 1000, 10000, 100000], "labelExpr": "'10' + ['⁻³','⁻²','⁻¹','⁰','¹','²','³','⁴','⁵'][round(log(datum.value)/LN10)+3]", "title": "Pixels Per Frame", "labelPadding": 21, "titlePadding": 8}},
        "y": {"field": "t", "type": "quantitative", "scale": {"type": "log", "domain": [0.001, 1000], "nice": false}, "axis": {"values": [0.001, 0.01, 0.1, 1, 10, 100, 1000], "labelExpr": "'10' + ['⁻³','⁻²','⁻¹','⁰','¹','²','³','⁴','⁵'][round(log(datum.value)/LN10)+3]", "title": "Time [sec]", "labelPadding": 7, "titlePadding": 28}},
        "color": {"field": "s", "type": "nominal", "legend": null, "scale": {"domain": ["1b","2c","3r","4m","5g","6y"], "range": ["#0000ff","#00ffff","#ff0000","#ff00ff","#00ff00","#ffff00"]}}}},
      {"data": {"name": "pts"}, "transform": [{"filter": "datum.p == 7"}], "mark": {"type": "circle", "size": 48, "opacity": 1},
       "encoding": {"x": {"field": "x", "type": "quantitative", "scale": {"type": "log", "domain": [100, 100000], "nice": false}, "axis": {"orient": "top", "values": [100, 1000, 10000, 100000], "labels": false, "title": null}},
        "y": {"field": "t", "type": "quantitative", "scale": {"type": "log", "domain": [0.001, 1000], "nice": false}, "axis": {"orient": "right", "values": [0.001, 0.01, 0.1, 1, 10, 100, 1000], "labels": false, "title": null}},
        "color": {"field": "s", "type": "nominal", "legend": null}}}
     ],
     "resolve": {"scale": {"x": "independent", "y": "independent"}}},
    {"width": 199, "height": 150, "title": {"text": ["Timing Performance", "Frames/Segment = 100"]},
     "layer": [
      {"data": {"name": "fits"}, "transform": [{"filter": "datum.p == 8"}], "mark": {"type": "line", "strokeWidth": 2.2},
       "encoding": {"x": {"field": "x", "type": "quantitative", "scale": {"type": "log", "domain": [100, 100000], "nice": false}, "axis": {"values": [100, 1000, 10000, 100000], "labelExpr": "'10' + ['⁻³','⁻²','⁻¹','⁰','¹','²','³','⁴','⁵'][round(log(datum.value)/LN10)+3]", "title": "Pixels Per Frame", "labelPadding": 21, "titlePadding": 8}},
        "y": {"field": "t", "type": "quantitative", "scale": {"type": "log", "domain": [0.001, 1000], "nice": false}, "axis": {"values": [0.001, 0.01, 0.1, 1, 10, 100, 1000], "labelExpr": "'10' + ['⁻³','⁻²','⁻¹','⁰','¹','²','³','⁴','⁵'][round(log(datum.value)/LN10)+3]", "title": "Time [sec]", "labelPadding": 7, "titlePadding": 28}},
        "color": {"field": "s", "type": "nominal", "legend": null, "scale": {"domain": ["1b","2c","3r","4m","5g","6y"], "range": ["#0000ff","#00ffff","#ff0000","#ff00ff","#00ff00","#ffff00"]}}}},
      {"data": {"name": "pts"}, "transform": [{"filter": "datum.p == 8"}], "mark": {"type": "circle", "size": 48, "opacity": 1},
       "encoding": {"x": {"field": "x", "type": "quantitative", "scale": {"type": "log", "domain": [100, 100000], "nice": false}, "axis": {"orient": "top", "values": [100, 1000, 10000, 100000], "labels": false, "title": null}},
        "y": {"field": "t", "type": "quantitative", "scale": {"type": "log", "domain": [0.001, 1000], "nice": false}, "axis": {"orient": "right", "values": [0.001, 0.01, 0.1, 1, 10, 100, 1000], "labels": false, "title": null}},
        "color": {"field": "s", "type": "nominal", "legend": null}}}
     ],
     "resolve": {"scale": {"x": "independent", "y": "independent"}}}
   ]
  }
 ]
}
